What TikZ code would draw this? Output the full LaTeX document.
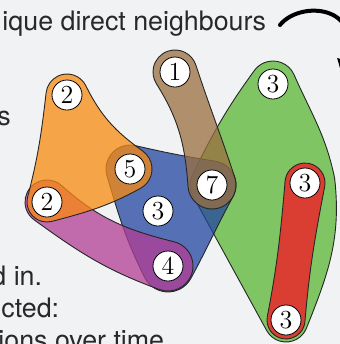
\documentclass[tikz,border=0pt]{standalone}
\usepackage{fontspec}
\newfontfamily\labelfont{TeX Gyre Heros}
\usetikzlibrary{calc,arrows.meta}
\definecolor{bgcol}{RGB}{241,242,244}
\definecolor{hgorange}{RGB}{249,138,15}
\definecolor{hgblue}{RGB}{34,69,159}
\definecolor{hgpurple}{RGB}{178,61,148}
\definecolor{hgbrown}{RGB}{154,110,63}
\definecolor{hggreen}{RGB}{90,182,53}
\definecolor{hgred}{RGB}{249,16,33}
\definecolor{textgray}{RGB}{40,40,40}
\begin{document}
\begin{tikzpicture}[x=0.5pt,y=0.5pt,
  vertex/.style={circle, draw=black, line width=0.4pt, fill=white,
    minimum size=15pt, inner sep=0pt, font=\fontsize{13}{13}\selectfont},
  hedge/.style={draw=black!85, line width=0.45pt, fill=#1, fill opacity=0.75},
  caption/.style={anchor=base west, inner sep=0pt, text=textgray,
    font=\labelfont\fontsize{13.4}{16}\selectfont},
  turnarrow/.style={line width=2pt, line cap=round,
    -{Triangle[length=6pt,width=8pt]}}]
\useasboundingbox (0,0) rectangle (340,-344);
\fill[bgcol] (0,0) rectangle (340,-344);
\clip (0,0) rectangle (340,-344);

% vertex positions
\coordinate (c1)  at (175,-72);
\coordinate (c2t) at (67,-95);
\coordinate (c5)  at (130,-169);
\coordinate (c2b) at (47,-202);
\coordinate (c3m) at (158,-211);
\coordinate (c7)  at (212,-185);
\coordinate (c4)  at (168,-266);
\coordinate (c3g) at (273,-84);
\coordinate (c3r) at (305,-183);
\coordinate (c3s) at (286,-320);

% hyperedges, back to front
\path[hedge=hggreen]
  ($(c7)+(208.73:22)$) to[out=-61.27,in=118.73] ($(c3s)+(-151.27:22)$)
  arc[start angle=-151.27,end angle=-21.9,radius=22]
  to[out=68.1,in=276.1] ($(c3r)+(6.1:30)$)
  arc[start angle=6.1,end angle=11.91,radius=30]
  to[out=101.91,in=293.91] ($(c3g)+(23.91:23)$)
  arc[start angle=23.91,end angle=143.87,radius=23]
  to[out=233.87,in=63.87] ($(c7)+(153.87:22)$)
  arc[start angle=153.87,end angle=208.73,radius=22]
  -- cycle;

\path[hedge=hgred]
  ($(c3r)+(175.1:20)$) to[out=-94.9,in=79.1] ($(c3s)+(-190.9:19)$)
  arc[start angle=-190.9,end angle=-4.9,radius=19]
  to[out=85.1,in=-100.9] ($(c3r)+(-10.9:20)$)
  arc[start angle=-10.9,end angle=175.1,radius=20]
  -- cycle;

\path[hedge=hgblue]
  ($(c5)+(196.4:24)$) to[out=-73.6,in=116.4] ($(c4)+(206.4:26)$)
  arc[start angle=206.4,end angle=331.48,radius=26]
  to[out=61.48,in=241.48] ($(c7)+(-28.52:24)$)
  arc[start angle=-28.52,end angle=80.96,radius=24]
  to[out=170.96,in=346.96] ($(c5)+(76.96:24)$)
  arc[start angle=76.96,end angle=196.4,radius=24]
  -- cycle;

\path[hedge=hgpurple]
  ($(c2b)+(-125.88:22)$) to[out=-35.88,in=160.12] ($(c4)+(-109.88:25)$)
  arc[start angle=-109.88,end angle=76.12,radius=25]
  to[out=166.12,in=-41.88] ($(c2b)+(48.12:22)$)
  arc[start angle=48.12,end angle=234.12,radius=22]
  -- cycle;

\path[hedge=hgorange]
  ($(c2t)+(173.41:21)$) to[out=-96.59,in=75.41] ($(c2b)+(165.41:20)$)
  arc[start angle=165.41,end angle=284.68,radius=20]
  to[out=14.68,in=208.68] ($(c5)+(-61.32:22)$)
  arc[start angle=-61.32,end angle=54.41,radius=22]
  to[out=144.41,in=296.41] ($(c2t)+(26.41:21)$)
  arc[start angle=26.41,end angle=173.41,radius=21]
  -- cycle;

\path[hedge=hgbrown]
  ($(c1)+(-147.87:22)$) to[out=-57.87,in=94.13] ($(c7)+(-175.87:24)$)
  arc[start angle=-175.87,end angle=18.13,radius=24]
  to[out=108.13,in=-71.87] ($(c1)+(18.13:22)$)
  arc[start angle=18.13,end angle=212.13,radius=22]
  -- cycle;

% vertices
\node[vertex] (v1)  at (c1)  {1};
\node[vertex] (v2t) at (c2t) {2};
\node[vertex] (v5)  at (c5)  {5};
\node[vertex] (v2b) at (c2b) {2};
\node[vertex] (v3m) at (c3m) {3};
\node[vertex] (v7)  at (c7)  {7};
\node[vertex] (v4)  at (c4)  {4};
\node[vertex] (v3g) at (c3g) {3};
\node[vertex] (v3r) at (c3r) {3};
\node[vertex] (v3s) at (c3s) {3};

% surrounding text
\node[caption] (t1) at (2,-30)   {ique direct neighbours};
\node[caption] (t2) at (-3,-125) {s};
\node[caption] (t3) at (-9,-285) {d in.};
\node[caption] (t4) at (1,-317)  {cted:};
\node[caption] (t5) at (-2,-349) {ions over time};

% turning arrow
\coordinate (arrowstart) at (280,-25);
\coordinate (arrowend)   at (341,-72);
\draw[turnarrow] (arrowstart) .. controls (300,0) and (365,-5) .. (arrowend);
\end{tikzpicture}
\end{document}
